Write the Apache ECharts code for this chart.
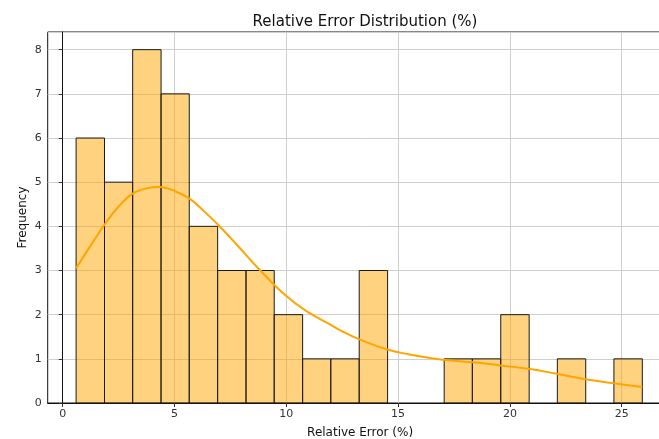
<!DOCTYPE html>
<html>
<head>
<meta charset="utf-8">
<script src="https://cdn.jsdelivr.net/npm/echarts@6/dist/echarts.min.js"></script>
<style>
  html, body { margin: 0; padding: 0; background: #fff; overflow: hidden; }
  /* the plot frame runs past the right edge of the window */
  #chart { width: 690px; height: 439px; }
</style>
</head>
<body>
<div id="chart"></div>
<script>
// Histogram bin edges (relative error, %)
const binEdges = [0.60, 1.87, 3.13, 4.40, 5.66, 6.93, 8.20, 9.46, 10.73, 11.99,
                  13.26, 14.53, 15.79, 17.06, 18.32, 19.59, 20.86, 22.12, 23.39, 24.65, 25.92];
// Count per bin
const binCounts = [6, 5, 8, 7, 4, 3, 3, 2, 1, 1, 3, 0, 0, 1, 1, 2, 0, 1, 0, 1];

// Kernel density estimate, scaled to counts
const kdeX = [0.6, 1.22, 1.86, 2.5, 3.13, 3.75, 4.35, 5.0, 5.69, 6.3, 6.96, 7.9, 8.82,
              10.0, 10.9, 11.95, 12.4, 13.27, 14.52, 15.5, 16.43, 17.4, 18.36, 19.56,
              20.9, 22.1, 23.36, 24.6, 25.92];
const kdeY = [3.05, 3.54, 4.03, 4.45, 4.74, 4.86, 4.89, 4.80, 4.62, 4.35, 4.03, 3.52, 3.01,
              2.42, 2.08, 1.78, 1.65, 1.44, 1.21, 1.10, 1.02, 0.96, 0.92, 0.85,
              0.77, 0.66, 0.54, 0.45, 0.36];

// Axis ranges and tick labels
const xRange = [-0.67, 27.27];
const yRange = [0, 8.4];
const xTicks = [0, 5, 10, 15, 20, 25];

const titleText = 'Relative Error Distribution (%)';
const xLabel = 'Relative Error (%)';
const yLabel = 'Frequency';

const bins = binCounts.map((c, i) => [binEdges[i], binEdges[i + 1], c]);
const kde = kdeX.map((x, i) => [x, kdeY[i]]);

const FONT = 'DejaVu Sans';
const gridColor = '#cfcfcf';

const chart = echarts.init(document.getElementById('chart'), null, { renderer: 'canvas' });

chart.setOption({
  animation: false,
  backgroundColor: '#fff',
  title: {
    text: titleText,
    left: 360, top: 10, textAlign: 'center',
    textStyle: { fontFamily: FONT, fontSize: 15, fontWeight: 'normal', color: '#111' }
  },
  grid: {
    left: 47.7, top: 32, width: 624.8, height: 371,
    outerBoundsMode: 'none',
    containLabel: false,
    show: true, borderColor: '#111', borderWidth: 1, backgroundColor: 'transparent'
  },
  xAxis: {
    type: 'value',
    min: xRange[0], max: xRange[1],
    axisLine: { show: true, onZero: false, lineStyle: { color: '#111', width: 1 } },
    axisTick: { show: true, length: 4, lineStyle: { color: '#333' }, customValues: xTicks },
    axisLabel: {
      customValues: xTicks,
      fontFamily: FONT, fontSize: 11, color: '#333', margin: 6
    },
    splitLine: { show: false },
    name: xLabel, nameLocation: 'middle', nameGap: 24,
    nameTextStyle: { fontFamily: FONT, fontSize: 12, color: '#111' }
  },
  yAxis: {
    type: 'value',
    min: yRange[0], max: yRange[1], interval: 1,
    axisLine: { show: true, lineStyle: { color: '#111', width: 1 } },
    axisTick: { show: true, length: 4, lineStyle: { color: '#333' } },
    axisLabel: {
      showMaxLabel: false,
      fontFamily: FONT, fontSize: 11, color: '#333', margin: 6
    },
    splitLine: { show: true, lineStyle: { color: gridColor, width: 1 } },
    name: yLabel, nameLocation: 'middle', nameGap: 19, nameMoveOverlap: false,
    nameTextStyle: { fontFamily: FONT, fontSize: 12, color: '#111' }
  },
  series: [
    {
      // vertical grid lines at the x tick positions, kept under the bars
      type: 'line',
      data: [],
      silent: true,
      z: 0,
      markLine: {
        silent: true, symbol: 'none', label: { show: false }, z: 0,
        lineStyle: { color: gridColor, width: 1, type: 'solid' },
        data: xTicks.map(v => ({ xAxis: v }))
      }
    },
    {
      type: 'custom',
      data: bins,
      z: 2,
      encode: { x: [0, 1], y: 2 },
      renderItem: function (params, api) {
        if (api.value(2) <= 0) return null;
        const p0 = api.coord([api.value(0), api.value(2)]);
        const p1 = api.coord([api.value(1), 0]);
        return {
          type: 'rect',
          shape: { x: p0[0], y: p0[1], width: p1[0] - p0[0], height: p1[1] - p0[1] },
          style: { fill: 'rgba(255,165,0,0.5)', stroke: '#1a1a1a', lineWidth: 1 }
        };
      }
    },
    {
      type: 'line',
      data: kde,
      smooth: 0.4,
      showSymbol: false,
      lineStyle: { color: '#FFA500', width: 2 },
      z: 5
    }
  ]
});
</script>
</body>
</html>
